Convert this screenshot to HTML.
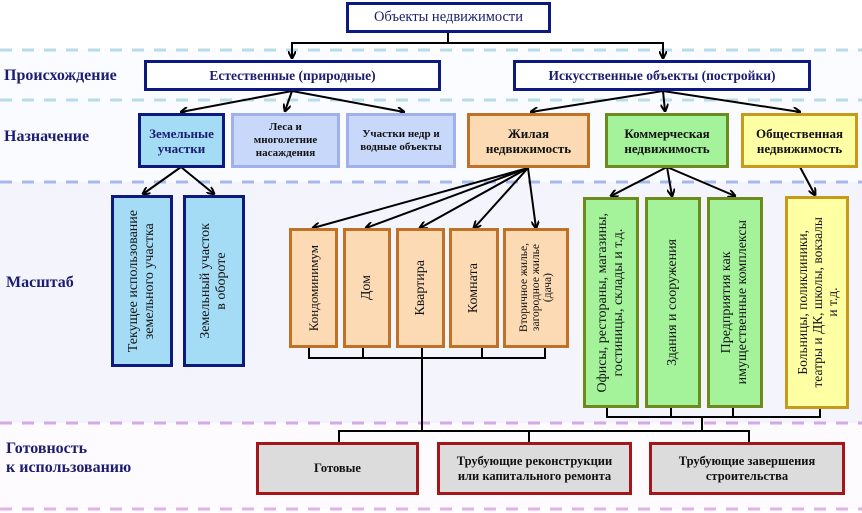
<!DOCTYPE html>
<html><head><meta charset="utf-8"><style>
body{margin:0;width:862px;height:513px;position:relative;overflow:hidden;background:#fff;font-family:"Liberation Serif",serif;font-weight:bold;color:#111}
.b{position:absolute;box-sizing:border-box;display:flex;align-items:center;justify-content:center;text-align:center;font-size:12.5px;line-height:15px}
.lab{position:absolute;color:#1c1c70;font-size:16px;font-weight:bold;line-height:19px}
.v{writing-mode:vertical-rl;transform:rotate(180deg);font-weight:normal;font-size:14px;line-height:16px}
.nav{border:3px solid #0c1a80;background:#fff;color:#1c1c70;font-size:13.5px}
.zb{border:3px solid #0c1a80;background:#a4dcf6}
.lb{border:3px solid #a0b0ea;background:#c8d8fa;font-size:11px;line-height:13px}
.or{border:3px solid #bf7226;background:#fcdab4}
.gr{border:3px solid #6d8a1c;background:#a4f29a}
.ye{border:3px solid #c89a1c;background:#ffffa4}
.rd{border:3px solid #a4161a;background:#dcdcdc}
</style></head><body>
<div style="position:absolute;left:0;top:50px;width:862px;height:50px;background:#fafcff"></div>
<div style="position:absolute;left:0;top:100px;width:862px;height:82px;background:#fafbff"></div>
<div style="position:absolute;left:0;top:182px;width:862px;height:241px;background:#f3f4fc"></div>
<div style="position:absolute;left:0;top:423px;width:862px;height:86px;background:#fdfbfe"></div>
<svg width="862" height="513" style="position:absolute;left:0;top:0">
<defs><marker id="a" markerWidth="8" markerHeight="8" refX="7" refY="4" orient="auto" markerUnits="userSpaceOnUse"><path d="M0,0 L8,4 L0,8" fill="none" stroke="#000" stroke-width="2"/></marker></defs>
<g stroke-dasharray="12,10" stroke-width="3">
<line x1="0" y1="50" x2="862" y2="50" stroke="#b8dce8"/>
<line x1="0" y1="100" x2="862" y2="100" stroke="#b8dce8"/>
<line x1="0" y1="182" x2="862" y2="182" stroke="#a8b8ea"/>
<line x1="0" y1="423" x2="862" y2="423" stroke="#d4a8ea"/>
<line x1="0" y1="509" x2="862" y2="509" stroke="#e4b0e8"/>
</g>
<g stroke="#000" stroke-width="2" fill="none">
<polyline points="448,32 448,43 292,43 292,58" marker-end="url(#a)"/>
<polyline points="448,43 663,43 663,58" marker-end="url(#a)"/>
<line x1="292" y1="91" x2="181" y2="112" marker-end="url(#a)"/>
<line x1="292" y1="91" x2="285" y2="111" marker-end="url(#a)"/>
<line x1="292" y1="91" x2="404" y2="112" marker-end="url(#a)"/>
<line x1="663" y1="91" x2="531" y2="112" marker-end="url(#a)"/>
<line x1="663" y1="91" x2="665" y2="111" marker-end="url(#a)"/>
<line x1="663" y1="91" x2="800" y2="112" marker-end="url(#a)"/>
<line x1="181" y1="167" x2="143" y2="194" marker-end="url(#a)"/>
<line x1="181" y1="167" x2="214" y2="194" marker-end="url(#a)"/>
<line x1="528" y1="168" x2="313" y2="228" marker-end="url(#a)"/>
<line x1="528" y1="168" x2="366" y2="228" marker-end="url(#a)"/>
<line x1="528" y1="168" x2="420" y2="228" marker-end="url(#a)"/>
<line x1="528" y1="168" x2="474" y2="228" marker-end="url(#a)"/>
<line x1="528" y1="168" x2="536" y2="228" marker-end="url(#a)"/>
<line x1="667" y1="167" x2="611" y2="196" marker-end="url(#a)"/>
<line x1="667" y1="167" x2="672" y2="196" marker-end="url(#a)"/>
<line x1="667" y1="167" x2="735" y2="196" marker-end="url(#a)"/>
<line x1="800" y1="167" x2="815" y2="195" marker-end="url(#a)"/>
<polyline points="309,348 309,358 545,358 545,348"/>
<line x1="363" y1="348" x2="363" y2="358"/><line x1="422" y1="348" x2="422" y2="431"/><line x1="482" y1="348" x2="482" y2="358"/>
<polyline points="607,407 607,417 820,417 820,408"/>
<line x1="671" y1="407" x2="671" y2="417"/><line x1="733" y1="407" x2="733" y2="417"/><line x1="702" y1="417" x2="702" y2="431"/>
<polyline points="339,442 339,431 749,431 749,442"/>
<line x1="529" y1="431" x2="529" y2="442"/>
</g></svg>
<div class="b nav" style="left:346px;top:2px;width:205px;height:31px;font-weight:normal;font-size:14.5px">Объекты недвижимости</div>
<div class="lab" style="left:4px;top:66px">Происхождение</div>
<div class="lab" style="left:4px;top:127px">Назначение</div>
<div class="lab" style="left:6px;top:273px">Масштаб</div>
<div class="lab" style="left:6px;top:439px">Готовность<br>к использованию</div>
<div class="b nav" style="left:144px;top:60px;width:297px;height:31px">Естественные (природные)</div>
<div class="b nav" style="left:513px;top:60px;width:298px;height:31px">Искусственные объекты (постройки)</div>
<div class="b zb" style="left:138px;top:113px;width:87px;height:55px;font-size:13px;color:#1c1c70">Земельные<br>участки</div>
<div class="b lb" style="left:231px;top:113px;width:109px;height:55px">Леса и<br>многолетние<br>насаждения</div>
<div class="b lb" style="left:346px;top:113px;width:110px;height:55px">Участки недр и<br>водные объекты</div>
<div class="b or" style="left:467px;top:113px;width:123px;height:55px;font-size:13px">Жилая<br>недвижимость</div>
<div class="b gr" style="left:605px;top:113px;width:124px;height:55px;font-size:13px">Коммерческая<br>недвижимость</div>
<div class="b ye" style="left:741px;top:113px;width:117px;height:55px;font-size:13px">Общественная<br>недвижимость</div>
<div class="b zb" style="left:111px;top:195px;width:62px;height:172px"><span class="v">Текущее использование<br>земельного участка</span></div>
<div class="b zb" style="left:183px;top:195px;width:62px;height:172px"><span class="v">Земельный участок<br>в обороте</span></div>
<div class="b or" style="left:289px;top:228px;width:49px;height:120px"><span class="v" style="font-size:13px">Кондоминимум</span></div>
<div class="b or" style="left:343px;top:228px;width:48px;height:120px"><span class="v">Дом</span></div>
<div class="b or" style="left:396px;top:228px;width:49px;height:120px"><span class="v">Квартира</span></div>
<div class="b or" style="left:449px;top:228px;width:50px;height:120px"><span class="v">Комната</span></div>
<div class="b or" style="left:503px;top:228px;width:66px;height:120px"><span class="v" style="font-size:11.5px;line-height:12px">Вторичное жилье,<br>загородное жилье<br>(дача)</span></div>
<div class="b gr" style="left:583px;top:197px;width:56px;height:211px"><span class="v">Офисы, рестораны, магазины,<br>гостиницы, склады и т.д.</span></div>
<div class="b gr" style="left:645px;top:197px;width:56px;height:211px"><span class="v">Здания и сооружения</span></div>
<div class="b gr" style="left:707px;top:197px;width:56px;height:211px"><span class="v">Предприятия как<br>имущественные комплексы</span></div>
<div class="b ye" style="left:785px;top:196px;width:64px;height:213px"><span class="v" style="font-size:13.5px;line-height:15px">Больницы, поликлиники,<br>театры и ДК, школы, вокзалы<br>и т.д.</span></div>
<div class="b rd" style="left:256px;top:442px;width:163px;height:53px">Готовые</div>
<div class="b rd" style="left:437px;top:442px;width:195px;height:53px">Трубующие реконструкции<br>или капитального ремонта</div>
<div class="b rd" style="left:649px;top:442px;width:196px;height:53px">Трубующие завершения<br>строительства</div>
</body></html>
